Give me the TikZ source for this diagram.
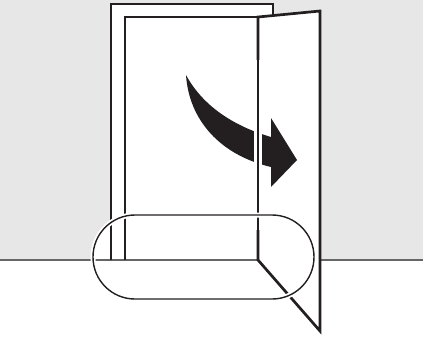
\documentclass[tikz,border=0pt]{standalone}
\definecolor{wall}{HTML}{E6E7E6}
\definecolor{ink}{HTML}{231F20}
\begin{document}
\begin{tikzpicture}[x=1pt,y=-1pt,
  frame/.style={draw=ink,line width=2.7pt,line join=miter},
  floorline/.style={draw=black!60,line width=1.1pt},
  halo/.style={draw=white,line width=#1},
  loupe/.style={draw=ink,line width=1.4pt,rounded corners=41.9pt}]
\useasboundingbox (0,0) rectangle (423,338);
% wall and floor
\fill[wall] (0,0) rectangle (423,260);
\fill[white,rounded corners=41.9pt] (93,215) rectangle (314,299);
\fill[white] (111,4) rectangle (273,260);
\draw[floorline] (0,260) -- (423,260);
% frame
\draw[frame] (111,260) |- (273,4) -- (273,16);
\draw[frame] (125,260) |- (258,17) -- (258,260);
% open door
\draw[frame,fill=white] (258,17) -- (320,11) -- (320,331) -- (258,260) -- cycle;
% swing arrow
\fill[ink] (186,75) .. controls (189,120) and (220,155) .. (271,167)
  -- (271,187) -- (297,160) -- (271,118) -- (271,137)
  .. controls (240,128) and (205,110) .. (186,75) -- cycle;
\draw[halo=7.7pt] (258,60) -- (258,230);
\draw[frame] (258,60) -- (258,230);
% detail at the threshold
\draw[halo=5pt,rounded corners=41.9pt] (93,215) rectangle (314,299);
\draw[loupe] (93,215) rectangle (314,299);
\end{tikzpicture}
\end{document}
